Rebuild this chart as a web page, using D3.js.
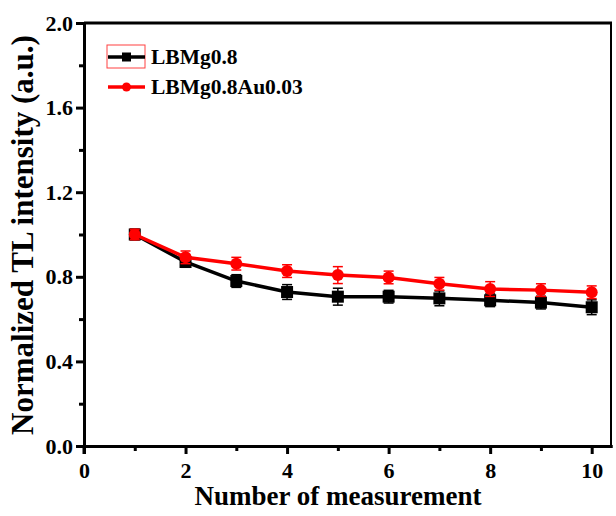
<!DOCTYPE html>
<html lang="en">
<head>
<meta charset="utf-8">
<script src="https://d3js.org/d3.v7.min.js"></script>
<style type="text/css">
body{
  margin: 0;
  padding: 0;
  background: white;
}
svg text{
  font-family: "Liberation Serif", "Times New Roman", serif;
  font-weight: bold;
}
</style>
</head>
<body>
<div id="chart"></div>
<script type="text/javascript">

// data
var measurements = [1, 2, 3, 4, 5, 6, 7, 8, 9, 10];
var lbmg = [1.0, 0.87, 0.78, 0.728, 0.706, 0.706, 0.698, 0.689, 0.678, 0.656];
var lbmgErr = [0.025, 0.025, 0.03, 0.035, 0.04, 0.03, 0.035, 0.03, 0.03, 0.035];
var lbmgAu = [1.0, 0.892, 0.862, 0.827, 0.808, 0.797, 0.767, 0.742, 0.737, 0.727];
var lbmgAuErr = [0.025, 0.03, 0.03, 0.03, 0.04, 0.03, 0.03, 0.035, 0.03, 0.03];
var seriesNames = ["LBMg0.8", "LBMg0.8Au0.03"];
var xTicks = [0, 2, 4, 6, 8, 10];
var yTicks = [0.0, 0.4, 0.8, 1.2, 1.6, 2.0];

var width = 616, height = 516;
var margin = {left: 84, right: 4, top: 23, bottom: 70};

var svg = d3.select("#chart").append("svg")
  .attr("width", width)
  .attr("height", height);

var x = d3.scaleLinear()
  .domain([0, 10.4])
  .range([margin.left, width - margin.right]);
var y = d3.scaleLinear()
  .domain([0, 2.0])
  .range([height - margin.bottom, margin.top]);

// frame: top and right
svg.append("line")
  .attr("x1", x(0)).attr("x2", x(10.4))
  .attr("y1", y(2.0)).attr("y2", y(2.0))
  .attr("stroke", "black").attr("stroke-width", 3);
svg.append("line")
  .attr("x1", x(10.4) - 1).attr("x2", x(10.4) - 1)
  .attr("y1", y(2.0)).attr("y2", y(0))
  .attr("stroke", "black").attr("stroke-width", 2);

// x axis
var xAxis = svg.append("g")
  .attr("transform", "translate(0," + y(0) + ")")
  .call(d3.axisBottom(x).tickValues(xTicks).tickFormat(d3.format("d"))
    .tickSize(8).tickSizeOuter(0).tickPadding(8));
var xMinor = svg.append("g")
  .attr("transform", "translate(0," + y(0) + ")")
  .call(d3.axisBottom(x).tickValues([1, 3, 5, 7, 9]).tickFormat("")
    .tickSize(5).tickSizeOuter(0));

// y axis
var yAxis = svg.append("g")
  .attr("transform", "translate(" + x(0) + ",0)")
  .call(d3.axisLeft(y).tickValues(yTicks).tickFormat(d3.format(".1f"))
    .tickSize(8).tickSizeOuter(0).tickPadding(3));
var yMinor = svg.append("g")
  .attr("transform", "translate(" + x(0) + ",0)")
  .call(d3.axisLeft(y).tickValues([0.2, 0.6, 1.0, 1.4, 1.8]).tickFormat("")
    .tickSize(5).tickSizeOuter(0));

[xAxis, xMinor, yAxis, yMinor].forEach(function(g){
  g.select(".domain").attr("stroke-width", 3);
  g.selectAll(".tick line").attr("stroke-width", 3);
  g.selectAll("text")
    .attr("font-size", 22)
    .attr("fill", "black")
    .style("font-family", "'Liberation Serif', serif")
    .style("font-weight", "bold");
});
// the y axis line runs a bit past zero like the original
svg.append("line")
  .attr("x1", x(0)).attr("x2", x(0))
  .attr("y1", y(0)).attr("y2", y(0) + 8)
  .attr("stroke", "black").attr("stroke-width", 3);

// axis titles
svg.append("text")
  .attr("x", 338)
  .attr("y", 505)
  .attr("text-anchor", "middle")
  .attr("font-size", 27)
  .text("Number of measurement");
svg.append("text")
  .attr("transform", "translate(33,235) rotate(-90)")
  .attr("text-anchor", "middle")
  .attr("font-size", 31)
  .text("Normalized TL intensity (a.u.)");

var line = d3.line()
  .x(function(d){ return x(d[0]); })
  .y(function(d){ return y(d[1]); });

function drawSeries(vals, errs, color, shape){
  var pts = measurements.map(function(m, i){ return [m, vals[i], errs[i]]; });
  var g = svg.append("g");
  g.append("path")
    .datum(pts)
    .attr("d", line)
    .attr("fill", "none")
    .attr("stroke", color)
    .attr("stroke-width", 3.5);
  // error bars
  var eb = g.selectAll(".eb").data(pts).enter().append("g");
  eb.append("line")
    .attr("x1", function(d){ return x(d[0]); })
    .attr("x2", function(d){ return x(d[0]); })
    .attr("y1", function(d){ return y(d[1] - d[2]); })
    .attr("y2", function(d){ return y(d[1] + d[2]); })
    .attr("stroke", color).attr("stroke-width", 1.5);
  [-1, 1].forEach(function(s){
    eb.append("line")
      .attr("x1", function(d){ return x(d[0]) - 5; })
      .attr("x2", function(d){ return x(d[0]) + 5; })
      .attr("y1", function(d){ return y(d[1] + s * d[2]); })
      .attr("y2", function(d){ return y(d[1] + s * d[2]); })
      .attr("stroke", color).attr("stroke-width", 1.5);
  });
  if (shape === "square") {
    g.selectAll(".mk").data(pts).enter().append("rect")
      .attr("x", function(d){ return x(d[0]) - 6; })
      .attr("y", function(d){ return y(d[1]) - 6; })
      .attr("width", 12).attr("height", 12)
      .attr("fill", color);
  } else {
    g.selectAll(".mk").data(pts).enter().append("circle")
      .attr("cx", function(d){ return x(d[0]); })
      .attr("cy", function(d){ return y(d[1]); })
      .attr("r", 6)
      .attr("fill", color);
  }
}

drawSeries(lbmg, lbmgErr, "black", "square");
drawSeries(lbmgAu, lbmgAuErr, "#ff0000", "circle");

// legend
var legend = svg.append("g");
legend.append("rect")
  .attr("x", 107).attr("y", 45)
  .attr("width", 38).attr("height", 23)
  .attr("fill", "none")
  .attr("stroke", "#ff4040").attr("stroke-width", 1);
var lg = [
  {name: seriesNames[0], color: "black", shape: "square", y: 57},
  {name: seriesNames[1], color: "#ff0000", shape: "circle", y: 87}
];
lg.forEach(function(d){
  legend.append("line")
    .attr("x1", 108).attr("x2", 145)
    .attr("y1", d.y).attr("y2", d.y)
    .attr("stroke", d.color).attr("stroke-width", 3.5);
  if (d.shape === "square") {
    legend.append("rect")
      .attr("x", 122).attr("y", d.y - 4.5)
      .attr("width", 9).attr("height", 9)
      .attr("fill", d.color);
  } else {
    legend.append("circle")
      .attr("cx", 126.5).attr("cy", d.y)
      .attr("r", 4.5)
      .attr("fill", d.color);
  }
  legend.append("text")
    .attr("x", 151).attr("y", d.y + 7)
    .attr("font-size", 21.5)
    .text(d.name);
});

</script>
</body>
</html>
